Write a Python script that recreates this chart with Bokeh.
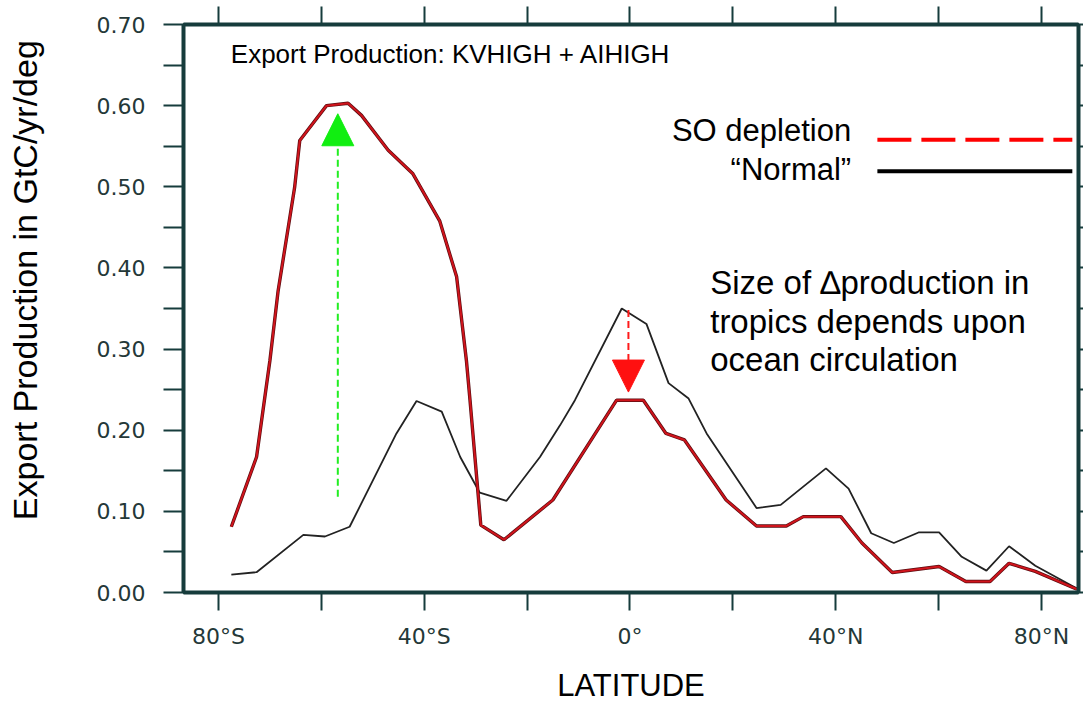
from bokeh.plotting import figure
from bokeh.models import (Range1d, LinearAxis, FixedTicker, Arrow, NormalHead,
                          Label, NumeralTickFormatter, CustomJSTickFormatter)
from bokeh.embed import file_html
from bokeh.resources import INLINE

# ---------------- data ----------------
lat_normal = [-77.5, -72.6, -63.5, -59.3, -54.5, -45.4, -41.5, -36.6, -33.0, -29.2,
              -24.0, -17.5, -13.6, -10.7, -1.6, 3.2, 7.5, 11.4, 14.9, 24.6, 29.3,
              38.1, 42.5, 46.9, 51.3, 56.1, 60.1, 64.5, 69.3, 73.7, 78.8, 86.9]
normal = [0.022, 0.025, 0.071, 0.069, 0.081, 0.196, 0.236, 0.223, 0.167, 0.123,
          0.113, 0.167, 0.206, 0.237, 0.350, 0.331, 0.258, 0.239, 0.196, 0.104, 0.108,
          0.153, 0.128, 0.073, 0.061, 0.074, 0.074, 0.044, 0.027, 0.057, 0.033, 0.005]

lat_so = [-77.5, -72.6, -70.0, -68.4, -65.2, -64.2, -59.0, -54.8, -52.2, -47.0,
          -42.2, -37.0, -33.7, -31.8, -31.1, -29.0, -24.5, -15.0, -2.6, 2.6, 7.0,
          10.6, 18.7, 24.6, 30.4, 33.7, 41.0, 45.1, 51.0, 60.1, 65.3, 70.0, 73.7,
          78.8, 86.9]
so_depletion = [0.081, 0.167, 0.286, 0.372, 0.499, 0.557, 0.600, 0.603, 0.588, 0.545,
                0.516, 0.458, 0.389, 0.286, 0.237, 0.083, 0.065, 0.114, 0.237, 0.237, 0.196,
                0.188, 0.114, 0.082, 0.082, 0.0935, 0.0935, 0.061, 0.0246, 0.032, 0.0135,
                0.0135, 0.036, 0.026, 0.004]

x_ticks = [-80, -40, 0, 40, 80]
x_minor_ticks = [-60, -20, 20, 60]
x_tick_labels = ["80°S", "40°S", "0°", "40°N", "80°N"]
y_ticks = [0.0, 0.1, 0.2, 0.3, 0.4, 0.5, 0.6, 0.7]
y_minor_ticks = [0.05, 0.15, 0.25, 0.35, 0.45, 0.55, 0.65]

title_text = "Export Production: KVHIGH + AIHIGH"
series_names = ["SO depletion", "\u201cNormal\u201d"]
note_lines = ["Size of \u2206production in", "tropics depends upon", "ocean circulation"]
x_title = "LATITUDE"
y_title = "Export Production in GtC/yr/deg"

# arrows: (x, y_start, y_end) in data units
green_arrow = (-56.8, 0.118, 0.590)
red_arrow = (-0.3, 0.348, 0.247)

# ---------------- styling ----------------
AX = "#163c3c"
TXT = "#243838"
FONT = "Liberation Sans"

p = figure(width=1083, height=705,
           x_range=Range1d(-86.8, 87.2), y_range=Range1d(0, 0.70),
           output_backend="svg", toolbar_location=None,
           min_border_left=183, min_border_right=5,
           min_border_top=24, min_border_bottom=113)
p.grid.visible = False
p.outline_line_color = AX
p.outline_line_width = 3
p.background_fill_color = "white"
p.border_fill_color = "white"

xa = p.xaxis[0]
xa.ticker = FixedTicker(ticks=x_ticks, minor_ticks=x_minor_ticks)
xa.major_label_overrides = dict(zip(x_ticks, x_tick_labels))
ya = p.yaxis[0]
ya.ticker = FixedTicker(ticks=y_ticks, minor_ticks=y_minor_ticks)
ya.formatter = NumeralTickFormatter(format="0.00")

for ax, tout, sto in ((xa, 18, 13), (ya, 20, 18)):
    ax.axis_line_color = AX
    ax.axis_line_width = 4
    ax.major_tick_line_color = AX
    ax.minor_tick_line_color = AX
    ax.major_tick_line_width = 2
    ax.minor_tick_line_width = 2
    ax.major_tick_in = 0
    ax.minor_tick_in = 0
    ax.major_tick_out = tout
    ax.minor_tick_out = tout
    ax.major_label_text_font = "DejaVu Sans"
    ax.major_label_text_font_size = "22px"
    ax.major_label_text_color = TXT
    ax.major_label_standoff = sto
    ax.axis_label_text_font = FONT
    ax.axis_label_text_font_style = "normal"
    ax.axis_label_text_color = "black"

xa.axis_label = x_title
xa.axis_label_text_font_size = "31px"
xa.axis_label_standoff = 16
xa.axis_label_text_baseline = "bottom"
NBSP = "\u00a0"
ya.axis_label = NBSP * 6 + y_title
ya.axis_label_text_font_size = "34px"
ya.axis_label_standoff = 50

top = LinearAxis(ticker=FixedTicker(ticks=x_ticks, minor_ticks=x_minor_ticks),
                 formatter=CustomJSTickFormatter(code="return ''"),
                 major_label_text_font_size="1px", major_label_standoff=0)
right = LinearAxis(ticker=FixedTicker(ticks=y_ticks, minor_ticks=y_minor_ticks),
                   formatter=CustomJSTickFormatter(code="return ''"),
                   major_label_text_font_size="1px", major_label_standoff=0)
for ax, tout in ((top, 18), (right, 5)):
    ax.axis_line_color = AX
    ax.axis_line_width = 4
    ax.major_tick_line_color = AX
    ax.minor_tick_line_color = AX
    ax.major_tick_line_width = 2
    ax.minor_tick_line_width = 2
    ax.major_tick_in = 0
    ax.minor_tick_in = 0
    ax.major_tick_out = tout
    ax.minor_tick_out = tout
p.add_layout(top, "above")
p.add_layout(right, "right")

# ---------------- curves ----------------
p.line(lat_normal, normal, line_color="#222222", line_width=1.8)
p.line(lat_so, so_depletion, line_color="#5a0c10", line_width=3.4)
p.line(lat_so, so_depletion, line_color="#d0141c", line_width=2)

# ---------------- arrows ----------------
gx, gy0, gy1 = green_arrow
p.add_layout(Arrow(x_start=gx, y_start=gy0, x_end=gx, y_end=gy1,
                   line_color="#22ee22", line_width=2, line_dash="7 4",
                   end=NormalHead(size=32, fill_color="#11ee11", line_color="#11ee11",
                                  line_width=1)))
rx, ry0, ry1 = red_arrow
p.add_layout(Arrow(x_start=rx, y_start=ry0, x_end=rx, y_end=ry1,
                   line_color="#ff1a1a", line_width=2, line_dash="7 4",
                   end=NormalHead(size=32, fill_color="#ff1010", line_color="#ff1010",
                                  line_width=1)))

# ---------------- legend (custom: label left, sample right) ----------------
p.line([48.1, 86.0], [0.558, 0.558], line_color="#ff0000", line_width=4, line_dash="34 10")
p.line([48.1, 86.0], [0.519, 0.519], line_color="#000000", line_width=4)
p.add_layout(Label(x=43.0, y=0.569, text=series_names[0], text_align="right",
                   text_baseline="middle", text_font=FONT, text_font_size="31px",
                   text_color="black"))
p.add_layout(Label(x=43.0, y=0.521, text=series_names[1], text_align="right",
                   text_baseline="middle", text_font=FONT, text_font_size="31px",
                   text_color="black"))

# ---------------- texts ----------------
p.add_layout(Label(x=-77.6, y=0.664, text=title_text, text_align="left",
                   text_baseline="middle", text_font=FONT, text_font_size="26px",
                   text_color="black"))
for yy, t in zip([0.382, 0.334, 0.287], note_lines):
    p.add_layout(Label(x=15.6, y=yy, text=t, text_align="left", text_baseline="middle",
                       text_font=FONT, text_font_size="33px", text_color="black"))

open("out.html", "w").write(file_html(p, INLINE))
